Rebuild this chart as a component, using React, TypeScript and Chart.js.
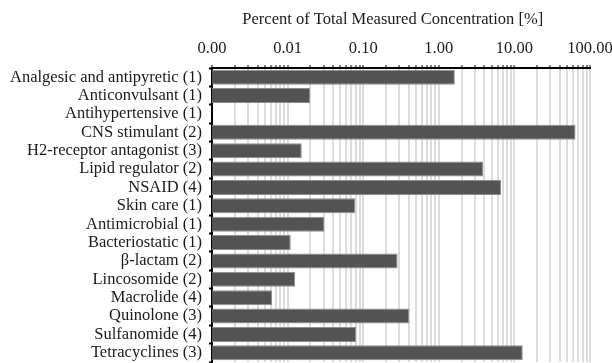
import React, { useEffect, useRef } from 'react';
import { Chart, registerables } from 'chart.js';

Chart.register(...registerables);

const categories = [
  'Analgesic and antipyretic (1)',
  'Anticonvulsant (1)',
  'Antihypertensive (1)',
  'CNS stimulant (2)',
  'H2-receptor antagonist (3)',
  'Lipid regulator (2)',
  'NSAID (4)',
  'Skin care (1)',
  'Antimicrobial (1)',
  'Bacteriostatic (1)',
  'β-lactam (2)',
  'Lincosomide (2)',
  'Macrolide (4)',
  'Quinolone (3)',
  'Sulfanomide (4)',
  'Tetracyclines (3)',
];

const percentValues: (number | null)[] = [
  1.63, 0.0198, null, 64.4, 0.0154, 3.85, 6.65, 0.0787, 0.0307, 0.011, 0.285, 0.0126, 0.00625, 0.405, 0.0804, 12.9,
];

const decadeValues = [0.001, 0.01, 0.1, 1, 10, 100];
const decadeLabels = ['0.00', '0.01', '0.10', '1.00', '10.00', '100.00'];
const minorMultipliers = [2, 3, 4, 5, 6, 7, 8, 9];

const axisTitle = 'Percent of Total Measured Concentration [%]';

const FONT = "'Liberation Serif', 'Times New Roman', serif";
const FONT_SIZE = 16.5;

function buildTickValues(): number[] {
  const out: number[] = [];
  decadeValues.forEach((d, i) => {
    out.push(d);
    if (i < decadeValues.length - 1) {
      minorMultipliers.forEach((m) => out.push(parseFloat((d * m).toPrecision(6))));
    }
  });
  return out;
}

function labelFor(value: number): string {
  for (let i = 0; i < decadeValues.length; i++) {
    if (Math.abs(value - decadeValues[i]) < decadeValues[i] * 1e-6) return decadeLabels[i];
  }
  return '';
}

export default function App() {
  const canvasRef = useRef<HTMLCanvasElement | null>(null);

  useEffect(() => {
    if (!canvasRef.current) return;
    const tickValues = buildTickValues();
    const chart = new Chart(canvasRef.current, {
      type: 'bar',
      data: {
        labels: categories,
        datasets: [
          {
            data: percentValues as any,
            backgroundColor: '#535355',
            borderColor: '#8e8e90',
            borderWidth: 1,
            barPercentage: 0.82,
            categoryPercentage: 1,
          },
        ],
      },
      options: {
        indexAxis: 'y',
        responsive: false,
        animation: false,
        devicePixelRatio: 1,
        layout: { padding: { top: 0, right: 22, bottom: 1, left: 0 } },
        plugins: {
          legend: { display: false },
          tooltip: { enabled: false },
        },
        scales: {
          x: {
            type: 'logarithmic',
            position: 'top',
            min: 0.001,
            max: 100,
            afterBuildTicks: (scale: any) => {
              scale.ticks = tickValues.map((v) => ({ value: v }));
            },
            afterFit: (scale: any) => {
              scale.height = 68;
              scale.paddingLeft = 0;
              scale.paddingRight = 0;
            },
            ticks: {
              autoSkip: false,
              maxRotation: 0,
              minRotation: 0,
              padding: 6,
              color: '#1a1a1a',
              font: { family: FONT, size: FONT_SIZE },
              callback: (value: any) => labelFor(Number(value)),
            },
            grid: {
              color: '#dcdcde',
              lineWidth: 2,
              drawTicks: true,
              tickLength: 3,
              tickColor: '#000000',
              tickWidth: 1,
            },
            border: { display: true, color: '#000000', width: 2 },
            title: {
              display: true,
              text: axisTitle + '    ',
              color: '#1a1a1a',
              font: { family: FONT, size: FONT_SIZE },
              padding: { top: 10, bottom: 0 },
            },
          },
          y: {
            type: 'category',
            afterFit: (scale: any) => {
              scale.width = 212;
              scale.paddingTop = 0;
              scale.paddingBottom = 0;
            },
            ticks: {
              color: '#1a1a1a',
              padding: 7,
              autoSkip: false,
              font: { family: FONT, size: FONT_SIZE },
            },
            grid: {
              offset: true,
              drawOnChartArea: false,
              drawTicks: true,
              tickLength: 3,
              tickColor: '#000000',
              tickWidth: 2,
            },
            border: { display: true, color: '#000000', width: 2 },
          },
        },
      },
    });
    return () => chart.destroy();
  }, []);

  return (
    <div style={{ position: 'fixed', left: 0, top: 0, width: 612, height: 363, background: '#ffffff' }}>
      <canvas ref={canvasRef} width={612} height={363} style={{ display: 'block' }} />
    </div>
  );
}
